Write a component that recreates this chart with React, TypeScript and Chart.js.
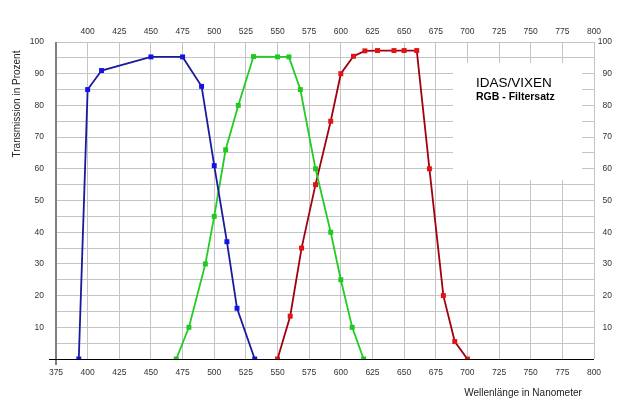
import { useEffect, useRef } from "react"
import { Chart, registerables } from "chart.js"

Chart.register(...registerables)

// Wellenlänge (nm) und Transmission (%) der drei Filter
const blueNm = [393, 400, 411, 450, 475, 490, 500, 510, 518, 532]
const blueT = [0, 85, 91, 95.3, 95.3, 86, 61, 37, 16, 0]
const greenNm = [470, 480, 493, 500, 509, 519, 531, 550, 559, 568, 580, 592, 600, 609, 618]
const greenT = [0, 10, 30, 45, 66, 80, 95.4, 95.3, 95.3, 85, 60, 40, 25, 10, 0]
const redNm = [550, 560, 569, 580, 592, 600, 610, 619, 629, 642, 650, 660, 670, 681, 690, 700]
const redT = [0, 13.5, 35, 55, 75, 90, 95.5, 97.2, 97.3, 97.3, 97.3, 97.3, 60, 20, 5.5, 0]

const xTitle = "Wellenlänge in Nanometer"
const yTitle = "Transmission in Prozent"
const boxLines = ["IDAS/VIXEN", "RGB - Filtersatz"]

const FONT = "'Liberation Sans', Arial, sans-serif"
const toPoints = (xs: number[], ys: number[]) => xs.map((x, i) => ({ x, y: ys[i] }))

const decor = {
  id: "decor",
  beforeDatasetsDraw(chart: any) {
    const { ctx, chartArea } = chart
    const { left, right, bottom, top } = chartArea
    ctx.save()
    // white label box over the grid
    ctx.fillStyle = "#ffffff"
    ctx.fillRect(453, 63, 129, 117)
    // axis lines
    ctx.strokeStyle = "#808080"
    ctx.lineWidth = 2
    ctx.beginPath()
    ctx.moveTo(left, top)
    ctx.lineTo(left, bottom + 6)
    ctx.stroke()
    ctx.strokeStyle = "#000000"
    ctx.lineWidth = 1.2
    ctx.beginPath()
    ctx.moveTo(left - 7, bottom + 0.5)
    ctx.lineTo(right, bottom + 0.5)
    ctx.stroke()
    ctx.restore()
  },
  afterDraw(chart: any) {
    const { ctx } = chart
    ctx.save()
    ctx.fillStyle = "#222"
    ctx.textBaseline = "middle"
    ctx.font = `10px ${FONT}`
    ctx.textAlign = "center"
    ctx.fillText(xTitle, 523, 393)
    ctx.save()
    ctx.translate(17, 104)
    ctx.rotate(-Math.PI / 2)
    ctx.fillText(yTitle, 0, 0)
    ctx.restore()
    ctx.fillStyle = "#000"
    ctx.textAlign = "left"
    ctx.font = `13.5px ${FONT}`
    ctx.fillText(boxLines[0], 476, 83)
    ctx.font = `bold 10.5px ${FONT}`
    ctx.fillText(boxLines[1], 476, 97)
    ctx.restore()
  },
}

const tickFont = { family: FONT, size: 8.5 }
const yLabel = (v: any) => (v !== 0 && v % 10 === 0 ? String(v) : "")

export default function App() {
  const chartRef = useRef<HTMLCanvasElement>(null)
  const chartInstance = useRef<Chart | null>(null)

  useEffect(() => {
    if (!chartRef.current) return
    const ctx = chartRef.current.getContext("2d")
    if (!ctx) return
    if (chartInstance.current) chartInstance.current.destroy()

    const series = (data: any, line: string, mark: string) => ({
      data,
      borderColor: line,
      backgroundColor: mark,
      pointBorderColor: mark,
      borderWidth: 1.8,
      pointStyle: "rect" as const,
      pointRadius: 3.5,
      pointBorderWidth: 0,
      tension: 0,
    })

    chartInstance.current = new Chart(ctx, {
      type: "line",
      data: {
        datasets: [
          series(toPoints(blueNm, blueT), "#1a1aa0", "#1414e0"),
          series(toPoints(greenNm, greenT), "#22cc22", "#22c822"),
          series(toPoints(redNm, redT), "#a00010", "#e01414"),
        ],
      },
      options: {
        animation: false,
        responsive: true,
        maintainAspectRatio: false,
        layout: { padding: { left: 0, right: 8, top: 0, bottom: 0 } },
        plugins: { legend: { display: false }, tooltip: { enabled: false } },
        scales: {
          x: {
            type: "linear",
            position: "bottom",
            min: 375,
            max: 800,
            ticks: { stepSize: 25, font: tickFont, color: "#333", padding: 9, maxRotation: 0 },
            grid: { color: "#c4c4c4", drawTicks: false },
            border: { display: false },
            afterFit: (s: any) => { s.height = 50 },
          },
          x2: {
            type: "linear",
            position: "top",
            min: 375,
            max: 800,
            ticks: {
              stepSize: 25,
              font: tickFont,
              color: "#333",
              padding: -3,
              maxRotation: 0,
              callback: (v: any) => (v === 375 ? "" : String(v)),
            },
            grid: { display: false },
            border: { display: false },
            afterFit: (s: any) => { s.height = 42 },
          },
          y: {
            position: "left",
            min: 0,
            max: 100,
            ticks: { stepSize: 5, font: tickFont, color: "#333", padding: 12, callback: yLabel },
            grid: { color: "#c4c4c4", drawTicks: false },
            border: { display: false },
            afterFit: (s: any) => { s.width = 56 },
          },
          y2: {
            position: "right",
            min: 0,
            max: 100,
            ticks: { stepSize: 5, font: tickFont, color: "#333", padding: 0, crossAlign: "far", callback: yLabel },
            grid: { display: false },
            border: { display: false },
            afterFit: (s: any) => { s.width = 18 },
          },
        },
      },
      plugins: [decor],
    })

    return () => {
      if (chartInstance.current) {
        chartInstance.current.destroy()
        chartInstance.current = null
      }
    }
  }, [])

  return (
    <div style={{ position: "fixed", left: 0, top: 0, width: "620px", height: "409px", background: "#fff" }}>
      <canvas ref={chartRef}></canvas>
    </div>
  )
}
